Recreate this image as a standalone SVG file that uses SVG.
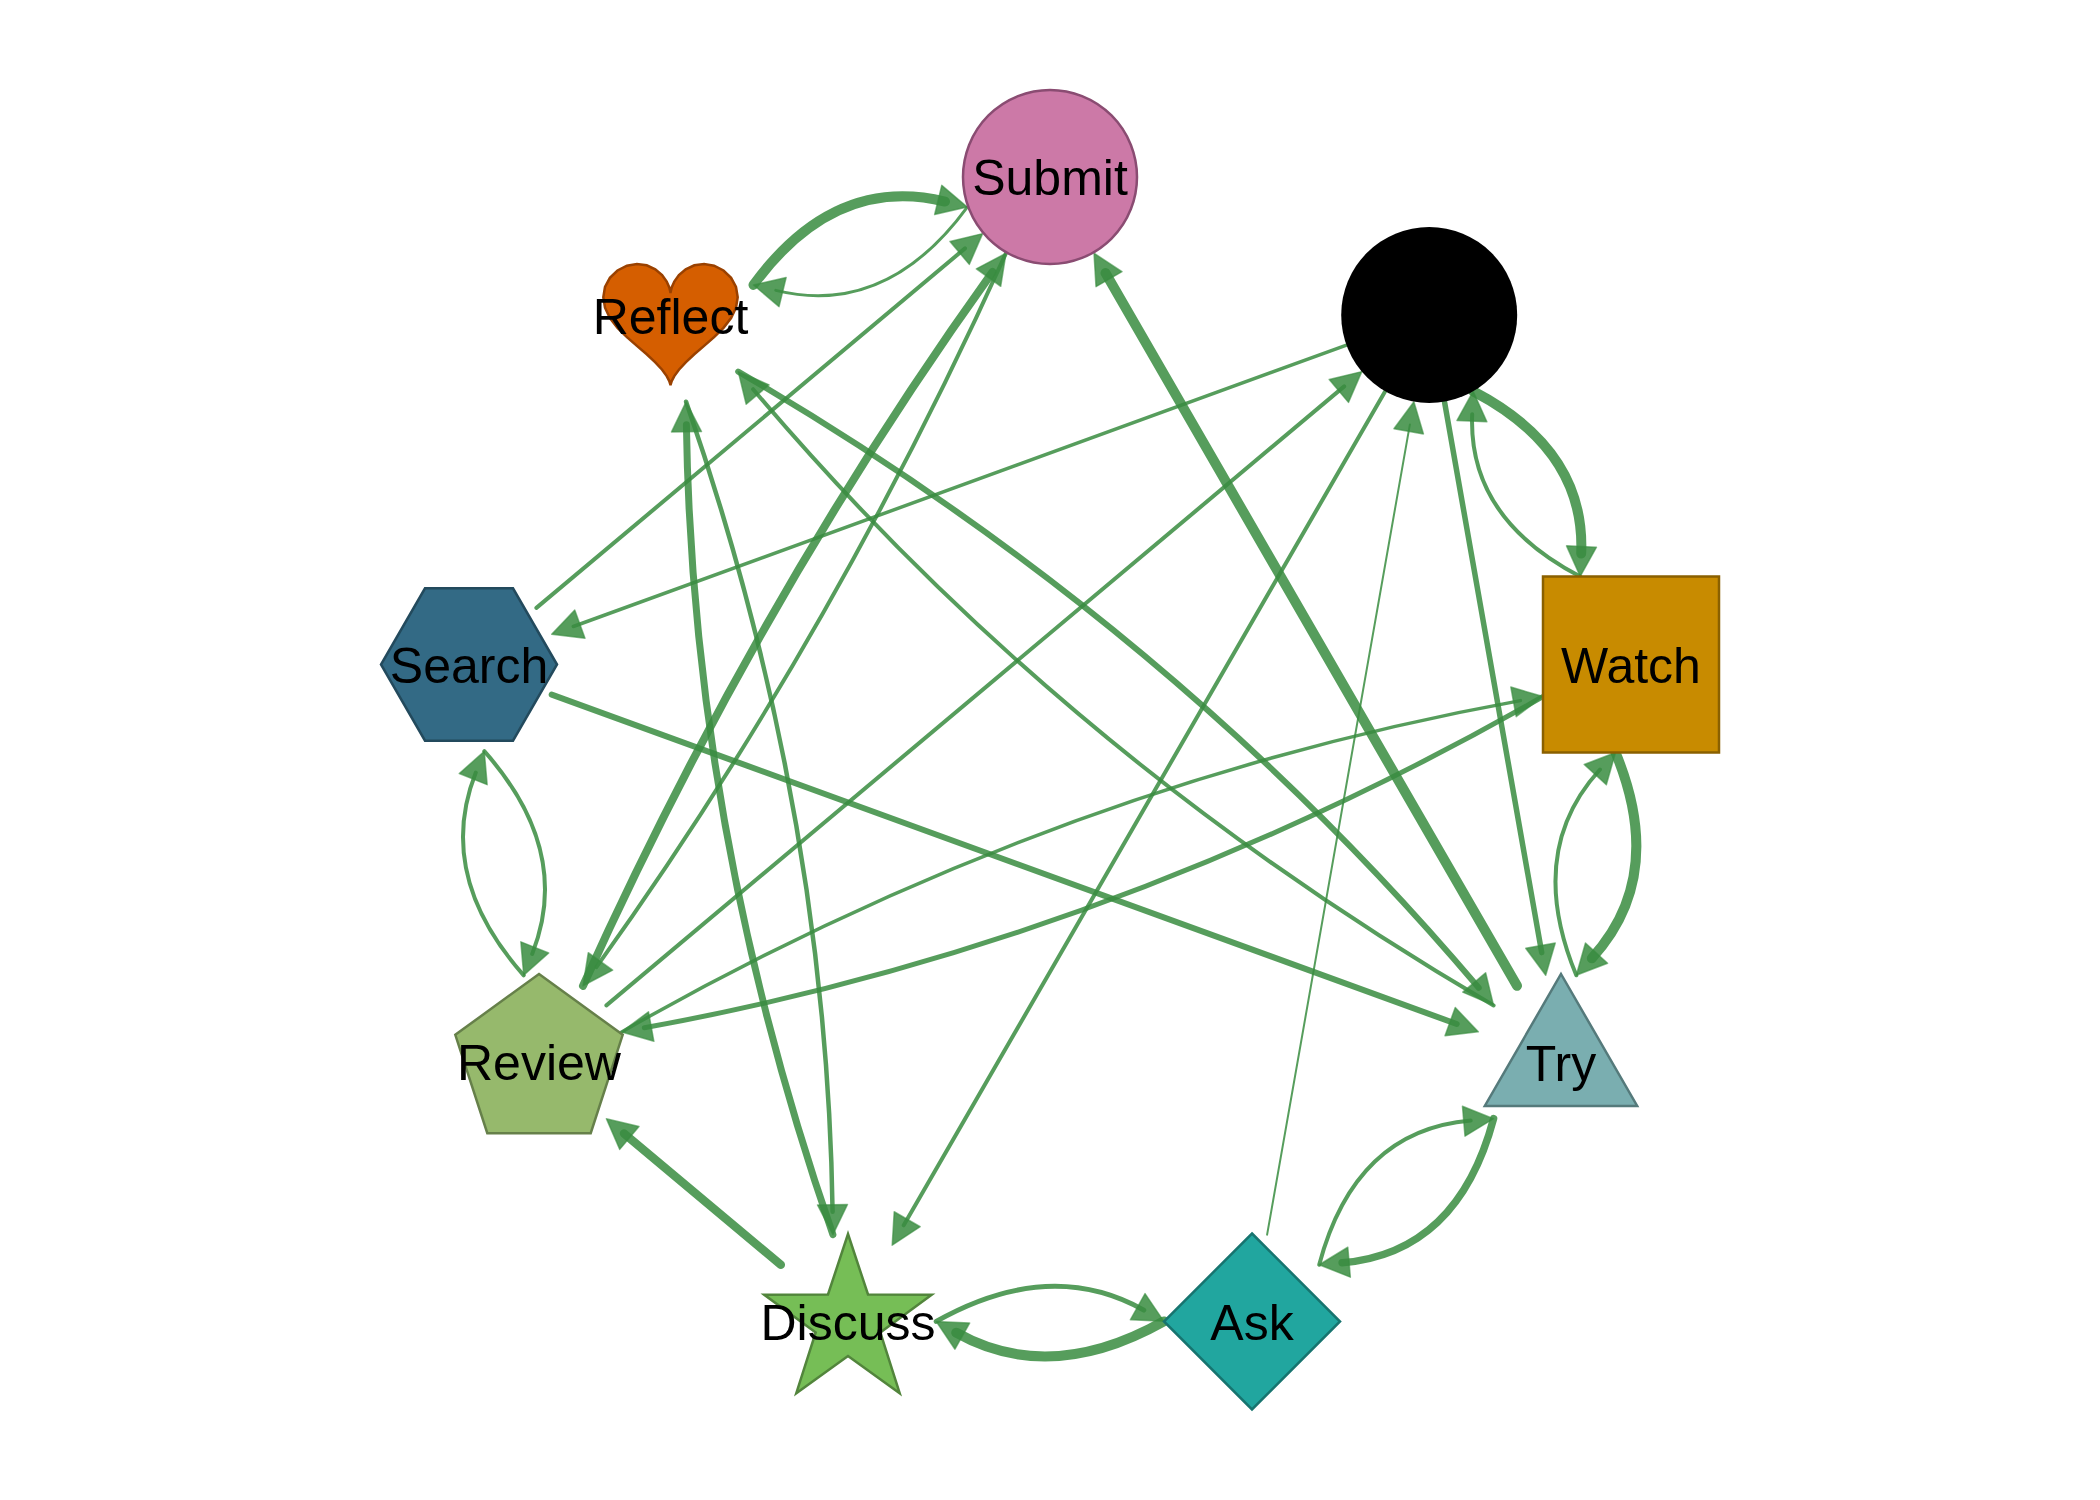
<svg xmlns="http://www.w3.org/2000/svg" width="2100" height="1500" viewBox="0 0 2100 1500">
<style>
.e{fill:none;stroke:rgb(56,140,64);stroke-opacity:0.85;stroke-linecap:round;marker-end:url(#ah)}
.lbl{font-family:"Liberation Sans",Arial,Helvetica,sans-serif;font-size:50px;fill:#000;text-anchor:middle}
.nd{stroke-width:2.5}
</style>
<defs>
<marker id="ah" markerUnits="userSpaceOnUse" markerWidth="40" markerHeight="34" viewBox="-5 -17 40 34" refX="7" refY="0" orient="auto">
<path d="M0,-15 L30,0 L0,15 Z" fill="rgb(56,140,64)" fill-opacity="0.85" stroke="rgb(56,140,64)" stroke-opacity="0.6" stroke-width="1.5" stroke-linejoin="round"/>
</marker>
</defs>
<rect width="2100" height="1500" fill="#fff"/>
<g id="edges">
<path class="e" stroke-width="10" d="M753.5,284.9 Q834.4,174.6 945,201.6"/>
<path class="e" stroke-width="3" d="M967.3,207.1 Q886.4,317.4 775.8,290.4"/>
<path class="e" stroke-width="4" d="M536.4,607.9 L965,248.4"/>
<path class="e" stroke-width="8" d="M583,985.8 Q758.1,598.5 992.6,271.9"/>
<path class="e" stroke-width="4" d="M1006,253.2 Q830.9,640.5 596.4,967.1"/>
<path class="e" stroke-width="10" d="M1517,985.8 L1105.5,273.1"/>
<path class="e" stroke-width="3.5" d="M1346.5,345.1 L573.3,626.5"/>
<path class="e" stroke-width="6" d="M738.2,371.6 Q1170.5,623.4 1478.7,987.8"/>
<path class="e" stroke-width="4" d="M1493.6,1005.4 Q1061.3,753.6 753.1,389.2"/>
<path class="e" stroke-width="4.5" d="M686.1,401.7 Q826.5,806.4 832.6,1211.7"/>
<path class="e" stroke-width="7" d="M832.9,1234.7 Q692.5,830 686.4,424.7"/>
<path class="e" stroke-width="4" d="M484.3,751.2 Q572.9,851.2 532.2,953.9"/>
<path class="e" stroke-width="4" d="M523.7,975.3 Q435.1,875.4 475.8,772.6"/>
<path class="e" stroke-width="8.5" d="M780.8,1264.8 L624,1133.4"/>
<path class="e" stroke-width="4" d="M606.4,1005.4 L1344.2,386.4"/>
<path class="e" stroke-width="4" d="M1385.2,391.2 L903.7,1225.3"/>
<path class="e" stroke-width="2" d="M1267.1,1234.7 L1409.9,424.4"/>
<path class="e" stroke-width="5.5" d="M1444.5,401.7 L1541.7,952.6"/>
<path class="e" stroke-width="10" d="M1473.2,391.2 Q1585.6,449.9 1581.2,553.5"/>
<path class="e" stroke-width="4" d="M1580.2,576.5 Q1467.8,517.9 1472.2,414.2"/>
<path class="e" stroke-width="10" d="M1615.5,752.5 Q1666.8,876.4 1591.8,958.3"/>
<path class="e" stroke-width="4" d="M1576.3,975.3 Q1525,851.4 1600,769.5"/>
<path class="e" stroke-width="7.5" d="M1493.6,1118.6 Q1457.8,1253 1342.1,1262.8"/>
<path class="e" stroke-width="4" d="M1319.2,1264.8 Q1355,1130.4 1470.7,1120.6"/>
<path class="e" stroke-width="5" d="M936.2,1321.4 Q1050,1257.4 1143.8,1310.1"/>
<path class="e" stroke-width="10" d="M1163.8,1321.4 Q1050,1385.4 956.2,1332.7"/>
<path class="e" stroke-width="6" d="M551.7,694.6 L1456.7,1024"/>
<path class="e" stroke-width="3.5" d="M621.7,1031.9 Q1053.7,785.3 1520.4,700.6"/>
<path class="e" stroke-width="5" d="M1543,696.5 Q1111.1,943.1 644.3,1027.8"/>
</g>
<g id="node-submit">
<circle class="nd" cx="1050" cy="177" r="87" fill="#CC79A7" stroke="#8A4C72"/>
<text class="lbl" x="1050" y="195">Submit</text>
</g>
<g id="node-black">
<circle cx="1429.2" cy="315" r="88" fill="#000"/>
</g>
<g id="node-watch">
<rect class="nd" x="1543" y="576.5" width="176" height="176" fill="#C88B00" stroke="#8A6000"/>
<text class="lbl" x="1631" y="683">Watch</text>
</g>
<g id="node-try">
<polygon class="nd" points="1561,974 1637.2,1106 1484.8,1106" fill="#7AAEB0" stroke="#557A7B"/>
<text class="lbl" x="1561" y="1081">Try</text>
</g>
<g id="node-ask">
<polygon class="nd" points="1252,1233.5 1340,1321.5 1252,1409.5 1164,1321.5" fill="#21A69F" stroke="#17746F"/>
<text class="lbl" x="1252" y="1340">Ask</text>
</g>
<g id="node-discuss">
<polygon class="nd" points="848,1234 868,1294.5 931.7,1294.8 880.3,1332.5 899.7,1393.2 848,1356 796.3,1393.2 815.7,1332.5 764.3,1294.8 828,1294.5" fill="#76BE56" stroke="#52853C"/>
<text class="lbl" x="848" y="1340">Discuss</text>
</g>
<g id="node-review">
<polygon class="nd" points="539,974 622.7,1034.8 590.7,1133.2 487.3,1133.2 455.3,1034.8" fill="#96B96C" stroke="#66804A"/>
<text class="lbl" x="539" y="1080">Review</text>
</g>
<g id="node-search">
<polygon class="nd" points="557,664.5 513,588.3 425,588.3 381,664.5 425,740.7 513,740.7" fill="#336A85" stroke="#234A5D"/>
<text class="lbl" x="469" y="683">Search</text>
</g>
<g id="node-reflect">
<polygon class="nd" fill="#D55E00" stroke="#9A4100" points="670.5,293 670.7,291.6 671.7,287.5 674.3,281.6 678.9,275.1 685.7,269.3 694.3,265.3 704.1,263.9 714.1,265.7 723.5,270.5 731.1,277.8 736,287 737.7,297.2 736,307.7 731.1,318 723.5,327.8 714.1,337.1 704.1,345.9 694.3,354.3 685.7,362.3 678.9,369.7 674.3,376.1 671.7,381.1 670.7,384.3 670.5,385.4 670.3,384.3 669.3,381.1 666.7,376.1 662.1,369.7 655.3,362.3 646.7,354.3 636.9,345.9 626.9,337.1 617.5,327.8 609.9,318 605,307.7 603.3,297.2 605,287 609.9,277.8 617.5,270.5 626.9,265.7 636.9,263.9 646.7,265.3 655.3,269.3 662.1,275.1 666.7,281.6 669.3,287.5 670.3,291.6"/>
<text class="lbl" x="670.5" y="334">Reflect</text>
</g>
</svg>
